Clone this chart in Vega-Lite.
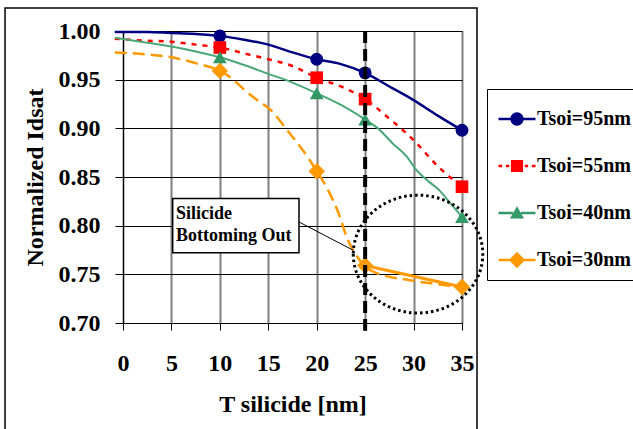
{
  "$schema": "https://vega.github.io/schema/vega-lite/v6.json",
  "width": 339,
  "height": 292,
  "autosize": {"type": "none"},
  "padding": {"left": 123, "top": 31, "right": 171, "bottom": 106},
  "background": "white",
  "config": {
    "font": "Liberation Serif",
    "view": {"stroke": "black", "strokeWidth": 1},
    "axis": {
      "labelFont": "Liberation Serif", "labelFontWeight": "bold", "labelFontSize": 24, "labelColor": "black",
      "titleFont": "Liberation Serif", "titleFontWeight": "bold", "titleFontSize": 24, "titleColor": "black",
      "domainColor": "black", "domainWidth": 1, "tickColor": "black", "tickWidth": 1,
      "labelFlush": false, "labelOverlap": false, "gridOpacity": 1
    },
    "axisX": {"tickSize": 7, "labelPadding": 21, "titlePadding": 17, "gridColor": "#808080", "gridWidth": 2, "labelAngle": 0},
    "axisY": {"tickSize": 8, "labelPadding": 15, "titlePadding": 11, "gridColor": "black", "gridWidth": 1}
  },
  "datasets": {
    "curves": [
      {"series": "Tsoi=95nm", "x": -0.85, "y": 0.999},
      {"series": "Tsoi=95nm", "x": 2.5, "y": 0.999},
      {"series": "Tsoi=95nm", "x": 5, "y": 0.998},
      {"series": "Tsoi=95nm", "x": 7.5, "y": 0.997},
      {"series": "Tsoi=95nm", "x": 10, "y": 0.995},
      {"series": "Tsoi=95nm", "x": 12.5, "y": 0.991},
      {"series": "Tsoi=95nm", "x": 15, "y": 0.986},
      {"series": "Tsoi=95nm", "x": 17.5, "y": 0.978},
      {"series": "Tsoi=95nm", "x": 20, "y": 0.971},
      {"series": "Tsoi=95nm", "x": 22.5, "y": 0.966},
      {"series": "Tsoi=95nm", "x": 25, "y": 0.957},
      {"series": "Tsoi=95nm", "x": 27.5, "y": 0.943},
      {"series": "Tsoi=95nm", "x": 30, "y": 0.929},
      {"series": "Tsoi=95nm", "x": 32.5, "y": 0.913},
      {"series": "Tsoi=95nm", "x": 35, "y": 0.898},
      {"series": "Tsoi=55nm", "x": -0.85, "y": 0.992},
      {"series": "Tsoi=55nm", "x": 2.5, "y": 0.990},
      {"series": "Tsoi=55nm", "x": 5, "y": 0.989},
      {"series": "Tsoi=55nm", "x": 7.5, "y": 0.986},
      {"series": "Tsoi=55nm", "x": 10, "y": 0.983},
      {"series": "Tsoi=55nm", "x": 12.5, "y": 0.977},
      {"series": "Tsoi=55nm", "x": 15, "y": 0.971},
      {"series": "Tsoi=55nm", "x": 17.5, "y": 0.964},
      {"series": "Tsoi=55nm", "x": 20, "y": 0.952},
      {"series": "Tsoi=55nm", "x": 22.5, "y": 0.943},
      {"series": "Tsoi=55nm", "x": 25, "y": 0.930},
      {"series": "Tsoi=55nm", "x": 27.5, "y": 0.910},
      {"series": "Tsoi=55nm", "x": 30, "y": 0.888},
      {"series": "Tsoi=55nm", "x": 32.5, "y": 0.861},
      {"series": "Tsoi=55nm", "x": 35, "y": 0.840},
      {"series": "Tsoi=40nm", "x": -0.85, "y": 0.993},
      {"series": "Tsoi=40nm", "x": 2.5, "y": 0.988},
      {"series": "Tsoi=40nm", "x": 5, "y": 0.984},
      {"series": "Tsoi=40nm", "x": 7.5, "y": 0.979},
      {"series": "Tsoi=40nm", "x": 10, "y": 0.973},
      {"series": "Tsoi=40nm", "x": 12.5, "y": 0.965},
      {"series": "Tsoi=40nm", "x": 15, "y": 0.956},
      {"series": "Tsoi=40nm", "x": 17.5, "y": 0.947},
      {"series": "Tsoi=40nm", "x": 20, "y": 0.936},
      {"series": "Tsoi=40nm", "x": 22.5, "y": 0.924},
      {"series": "Tsoi=40nm", "x": 25, "y": 0.909},
      {"series": "Tsoi=40nm", "x": 26.2, "y": 0.901},
      {"series": "Tsoi=40nm", "x": 27.9, "y": 0.884},
      {"series": "Tsoi=40nm", "x": 29.3, "y": 0.871},
      {"series": "Tsoi=40nm", "x": 30.3, "y": 0.857},
      {"series": "Tsoi=40nm", "x": 31.5, "y": 0.846},
      {"series": "Tsoi=40nm", "x": 32.7, "y": 0.836},
      {"series": "Tsoi=40nm", "x": 33.8, "y": 0.823},
      {"series": "Tsoi=40nm", "x": 35, "y": 0.809},
      {"series": "Tsoi=30nm", "x": -0.85, "y": 0.978},
      {"series": "Tsoi=30nm", "x": 2.5, "y": 0.976},
      {"series": "Tsoi=30nm", "x": 5, "y": 0.973},
      {"series": "Tsoi=30nm", "x": 7.5, "y": 0.967},
      {"series": "Tsoi=30nm", "x": 10, "y": 0.959},
      {"series": "Tsoi=30nm", "x": 11, "y": 0.953},
      {"series": "Tsoi=30nm", "x": 12.6, "y": 0.939},
      {"series": "Tsoi=30nm", "x": 14, "y": 0.928},
      {"series": "Tsoi=30nm", "x": 15, "y": 0.921},
      {"series": "Tsoi=30nm", "x": 17.2, "y": 0.895},
      {"series": "Tsoi=30nm", "x": 19.3, "y": 0.867},
      {"series": "Tsoi=30nm", "x": 20, "y": 0.856},
      {"series": "Tsoi=30nm", "x": 21.2, "y": 0.836},
      {"series": "Tsoi=30nm", "x": 22.4, "y": 0.809},
      {"series": "Tsoi=30nm", "x": 23.1, "y": 0.788},
      {"series": "Tsoi=30nm", "x": 24, "y": 0.771},
      {"series": "Tsoi=30nm", "x": 24.8, "y": 0.760},
      {"series": "Tsoi=30nm", "x": 26, "y": 0.752},
      {"series": "Tsoi=30nm", "x": 29.6, "y": 0.744},
      {"series": "Tsoi=30nm", "x": 32.4, "y": 0.740},
      {"series": "Tsoi=30nm", "x": 35, "y": 0.737}
    ],
    "markers": [
      {"series": "Tsoi=95nm", "x": 10, "y": 0.995},
      {"series": "Tsoi=95nm", "x": 20, "y": 0.971},
      {"series": "Tsoi=95nm", "x": 25, "y": 0.957},
      {"series": "Tsoi=95nm", "x": 35, "y": 0.898},
      {"series": "Tsoi=55nm", "x": 10, "y": 0.983},
      {"series": "Tsoi=55nm", "x": 20, "y": 0.952},
      {"series": "Tsoi=55nm", "x": 25, "y": 0.930},
      {"series": "Tsoi=55nm", "x": 35, "y": 0.840},
      {"series": "Tsoi=40nm", "x": 10, "y": 0.973},
      {"series": "Tsoi=40nm", "x": 20, "y": 0.936},
      {"series": "Tsoi=40nm", "x": 25, "y": 0.909},
      {"series": "Tsoi=40nm", "x": 35, "y": 0.809},
      {"series": "Tsoi=30nm", "x": 10, "y": 0.959},
      {"series": "Tsoi=30nm", "x": 20, "y": 0.856},
      {"series": "Tsoi=30nm", "x": 25, "y": 0.759},
      {"series": "Tsoi=30nm", "x": 35, "y": 0.737}
    ]
  },
  "layer": [
    {
      "data": {"name": "curves"},
      "transform": [{"filter": "datum.series === 'Tsoi=95nm'"}],
      "mark": {"type": "line", "color": "#000080", "strokeWidth": 2.5, "interpolate": "monotone"},
      "encoding": {
        "x": {"field": "x", "type": "quantitative", "scale": {"domain": [0, 35], "nice": false, "zero": false},
              "axis": {"title": "T silicide [nm]", "values": [0, 5, 10, 15, 20, 25, 30, 35], "grid": true}},
        "y": {"field": "y", "type": "quantitative", "scale": {"domain": [0.7, 1.0], "nice": false, "zero": false},
              "axis": {"title": "Normalized Idsat", "values": [0.7, 0.75, 0.8, 0.85, 0.9, 0.95, 1.0], "format": ".2f", "grid": true}}
      }
    },
    {
      "data": {"name": "curves"},
      "transform": [{"filter": "datum.series === 'Tsoi=55nm'"}],
      "mark": {"type": "line", "color": "#FF0000", "strokeWidth": 2.5, "strokeDash": [5, 6], "interpolate": "monotone"},
      "encoding": {
        "x": {"field": "x", "type": "quantitative"},
        "y": {"field": "y", "type": "quantitative"}
      }
    },
    {
      "data": {"name": "curves"},
      "transform": [{"filter": "datum.series === 'Tsoi=40nm'"}],
      "mark": {"type": "line", "color": "#4aa878", "strokeWidth": 2, "interpolate": "monotone"},
      "encoding": {
        "x": {"field": "x", "type": "quantitative"},
        "y": {"field": "y", "type": "quantitative"}
      }
    },
    {
      "data": {"name": "curves"},
      "transform": [{"filter": "datum.series === 'Tsoi=30nm'"}],
      "mark": {"type": "line", "color": "#FF9900", "strokeWidth": 2.5, "strokeDash": [12, 6], "interpolate": "monotone"},
      "encoding": {
        "x": {"field": "x", "type": "quantitative"},
        "y": {"field": "y", "type": "quantitative"}
      }
    },
    {
      "data": {"name": "markers"},
      "transform": [{"filter": "datum.series === 'Tsoi=30nm' && datum.x >= 25"}],
      "mark": {"type": "line", "color": "#FF9900", "strokeWidth": 3},
      "encoding": {
        "x": {"field": "x", "type": "quantitative"},
        "y": {"field": "y", "type": "quantitative"}
      }
    },
    {
      "data": {"name": "markers"},
      "transform": [{"filter": "datum.series === 'Tsoi=95nm'"}],
      "mark": {"type": "point", "filled": true, "opacity": 1, "size": 165},
      "encoding": {
        "x": {"field": "x", "type": "quantitative"},
        "y": {"field": "y", "type": "quantitative"},
        "color": {
          "field": "series", "type": "nominal",
          "scale": {"domain": ["Tsoi=95nm", "Tsoi=55nm", "Tsoi=40nm", "Tsoi=30nm"], "range": ["#000080", "#FF0000", "#339966", "#FF9900"]},
          "legend": {
            "title": null,
            "orient": "none", "legendX": 364, "legendY": 58,
            "strokeColor": "black", "fillColor": "white", "padding": 10,
            "symbolSize": 1369, "symbolStrokeWidth": 2.5,
            "symbolType": {"expr": "datum.value === 'Tsoi=95nm' ? 'M-1,-0.065H-0.34V0.065H-1ZM0.34,-0.065H1V0.065H0.34ZM-0.36,0A0.36,0.36,0,1,1,0.36,0A0.36,0.36,0,1,1,-0.36,0Z' : datum.value === 'Tsoi=55nm' ? 'M-1,-0.065H-0.8V0.065H-1ZM-0.6,-0.065H-0.42V0.065H-0.6ZM0.42,-0.065H0.6V0.065H0.42ZM0.8,-0.065H1V0.065H0.8ZM-0.33,-0.33H0.33V0.33H-0.33Z' : datum.value === 'Tsoi=40nm' ? 'M-1,-0.065H-0.22V0.065H-1ZM0.22,-0.065H1V0.065H0.22ZM0,-0.36L0.38,0.3L-0.38,0.3Z' : 'M-1,-0.065H-0.4V0.065H-1ZM0.4,-0.065H1V0.065H0.4ZM0,-0.44L0.44,0L0,0.44L-0.44,0Z'"},
            "labelFont": "Liberation Serif", "labelFontSize": 20, "labelFontWeight": "bold", "labelColor": "black",
            "labelOffset": 0, "rowPadding": 17, "labelLimit": 300,
            "encode": {
              "symbols": {
                "shape": {"signal": "datum.value === 'Tsoi=95nm' ? 'M-1,-0.065H-0.34V0.065H-1ZM0.34,-0.065H1V0.065H0.34ZM-0.36,0A0.36,0.36,0,1,1,0.36,0A0.36,0.36,0,1,1,-0.36,0Z' : datum.value === 'Tsoi=55nm' ? 'M-1,-0.065H-0.8V0.065H-1ZM-0.6,-0.065H-0.42V0.065H-0.6ZM0.42,-0.065H0.6V0.065H0.42ZM0.8,-0.065H1V0.065H0.8ZM-0.33,-0.33H0.33V0.33H-0.33Z' : datum.value === 'Tsoi=40nm' ? 'M-1,-0.065H-0.22V0.065H-1ZM0.22,-0.065H1V0.065H0.22ZM0,-0.36L0.38,0.3L-0.38,0.3Z' : 'M-1,-0.065H-0.4V0.065H-1ZM0.4,-0.065H1V0.065H0.4ZM0,-0.44L0.44,0L0,0.44L-0.44,0Z'"},
                "size": {"value": 1369},
                "fill": {"signal": "datum.value === 'Tsoi=95nm' ? '#000080' : datum.value === 'Tsoi=55nm' ? '#FF0000' : datum.value === 'Tsoi=40nm' ? '#339966' : '#FF9900'"},
                "opacity": {"value": 1}
              }
            }
          }
        }
      }
    },
    {
      "data": {"name": "markers"},
      "transform": [{"filter": "datum.series === 'Tsoi=55nm'"}],
      "mark": {"type": "point", "filled": true, "opacity": 1, "shape": "square", "size": 160},
      "encoding": {
        "x": {"field": "x", "type": "quantitative"},
        "y": {"field": "y", "type": "quantitative"},
        "color": {"field": "series", "type": "nominal"}
      }
    },
    {
      "data": {"name": "markers"},
      "transform": [{"filter": "datum.series === 'Tsoi=40nm'"}],
      "mark": {"type": "point", "filled": true, "opacity": 1, "shape": "triangle-up", "size": 190},
      "encoding": {
        "x": {"field": "x", "type": "quantitative"},
        "y": {"field": "y", "type": "quantitative"},
        "color": {"field": "series", "type": "nominal"}
      }
    },
    {
      "data": {"name": "markers"},
      "transform": [{"filter": "datum.series === 'Tsoi=30nm'"}],
      "mark": {"type": "point", "filled": true, "opacity": 1, "shape": "diamond", "size": 270},
      "encoding": {
        "x": {"field": "x", "type": "quantitative"},
        "y": {"field": "y", "type": "quantitative"},
        "color": {"field": "series", "type": "nominal"}
      }
    },
    {
      "data": {"values": [{"k": 1}]},
      "mark": {"type": "rule", "color": "black", "strokeWidth": 4, "strokeDash": [12, 6], "clip": false},
      "encoding": {
        "x": {"datum": 25, "type": "quantitative"},
        "y": {"datum": 1.0, "type": "quantitative"},
        "y2": {"datum": 0.692}
      }
    },
    {
      "data": {"values": [{"k": 1}]},
      "mark": {"type": "point", "shape": "M-1,0A1,0.91,0,1,0,1,0A1,0.91,0,1,0,-1,0Z", "size": 16770, "filled": false, "stroke": "black", "strokeWidth": 3, "strokeDash": [2.5, 3], "opacity": 1, "clip": false},
      "encoding": {
        "x": {"datum": 30.46, "type": "quantitative"},
        "y": {"datum": 0.7708, "type": "quantitative"}
      }
    },
    {
      "data": {"values": [{"k": 1}]},
      "mark": {"type": "rule", "color": "black", "strokeWidth": 1},
      "encoding": {
        "x": {"datum": 18.17, "type": "quantitative"},
        "y": {"datum": 0.8038, "type": "quantitative"},
        "x2": {"datum": 23.78},
        "y2": {"datum": 0.7747}
      }
    },
    {
      "data": {"values": [{"k": 1}]},
      "mark": {"type": "rect", "fill": "white", "stroke": "black", "strokeWidth": 1.5},
      "encoding": {
        "x": {"datum": 5.13, "type": "quantitative"},
        "x2": {"datum": 18.17},
        "y": {"datum": 0.8279, "type": "quantitative"},
        "y2": {"datum": 0.7723}
      }
    },
    {
      "data": {"values": [{"k": 1}]},
      "mark": {"type": "text", "align": "left", "baseline": "alphabetic", "font": "Liberation Serif", "fontSize": 18, "fontWeight": "bold", "lineHeight": 22, "color": "black", "text": ["Silicide", "Bottoming Out"]},
      "encoding": {
        "x": {"datum": 5.47, "type": "quantitative"},
        "y": {"datum": 0.8073, "type": "quantitative"}
      }
    },
    {
      "data": {"values": [{"k": 1}]},
      "mark": {"type": "rect", "fillOpacity": 0, "stroke": "black", "strokeWidth": 1.5, "clip": false},
      "encoding": {
        "x": {"datum": -12.18, "type": "quantitative"},
        "x2": {"datum": 36.55},
        "y": {"datum": 1.0237, "type": "quantitative"},
        "y2": {"datum": 0.579}
      }
    }
  ]
}
